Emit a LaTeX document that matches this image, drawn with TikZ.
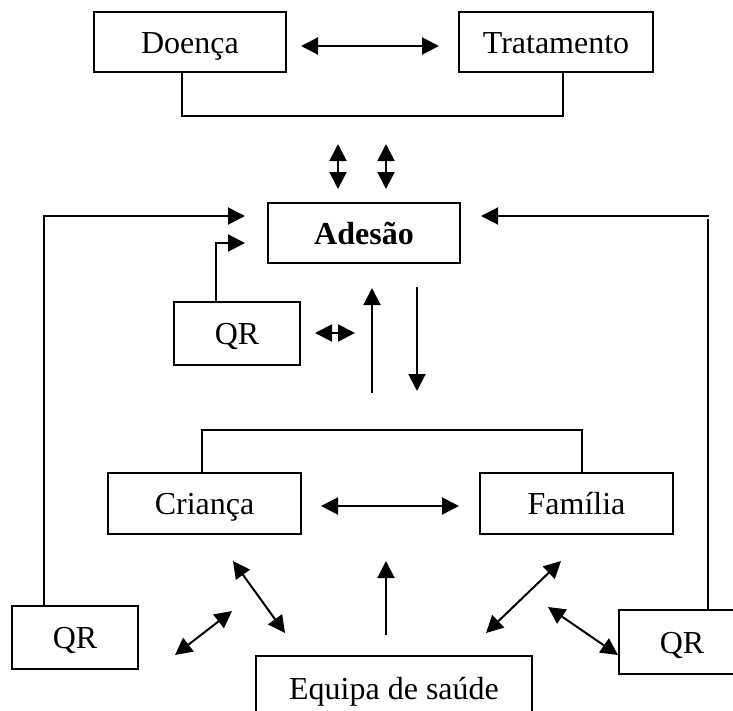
\documentclass[tikz,border=0pt]{standalone}
\usepackage{fontspec}
\setmainfont{Liberation Serif}
\usetikzlibrary{arrows.meta}
\begin{document}
\begin{tikzpicture}[x=1pt,y=-1pt,
  box/.style={draw,line width=2pt,inner sep=0pt,outer sep=0pt,text height=27pt,text depth=5pt,font=\fontsize{32}{38}\selectfont},
  conn/.style={line width=2pt},
  tip/.tip={Triangle[length=17pt,width=17pt]},
  arr/.style={conn,-tip},
  darr/.style={conn,tip-tip}]
\clip (0,0) rectangle (733,710);
\fill[white] (0,0) rectangle (733,710);
% nodes
\node[box,minimum width=192pt,minimum height=60pt] (doenca) at (190,42) {Doença};
\node[box,minimum width=194pt,minimum height=60pt] (tratamento) at (556,42) {Tratamento};
\node[box,minimum width=192pt,minimum height=60pt] (adesao) at (364,233) {\textbf{Adesão}};
\node[box,minimum width=126pt,minimum height=63pt] (qrm) at (237,333.5) {QR};
\node[box,minimum width=193pt,minimum height=61pt] (crianca) at (204.5,503.5) {Criança};
\node[box,minimum width=193pt,minimum height=61pt] (familia) at (576.5,503.5) {Família};
\node[box,minimum width=126pt,minimum height=63pt] (qrl) at (75,637.5) {QR};
\node[box,minimum width=126pt,minimum height=64pt] (qrr) at (682,642) {QR};
\node[box,minimum width=276pt,minimum height=64pt] (equipa) at (394,688) {Equipa de saúde};
% free ends
\coordinate (dt1) at (301,46);
\coordinate (dt2) at (439,46);
\coordinate (s1a) at (338,144);
\coordinate (s1b) at (338,189);
\coordinate (s2a) at (386,144);
\coordinate (s2b) at (386,189);
\coordinate (la) at (245,216);
\coordinate (lb) at (245,243);
\coordinate (ra) at (481,216);
\coordinate (rc) at (709,216);
\coordinate (rd) at (708,219);
\coordinate (qa) at (315,333);
\coordinate (qb) at (355,333);
\coordinate (u1) at (372,393);
\coordinate (u2) at (372,288);
\coordinate (d1) at (417,287);
\coordinate (d2) at (417,391);
\coordinate (cf1) at (321,506);
\coordinate (cf2) at (459,506);
\coordinate (ql1) at (175,655);
\coordinate (ql2) at (232,611);
\coordinate (ce1) at (233,561);
\coordinate (ce2) at (285,633);
\coordinate (eu1) at (386,635);
\coordinate (eu2) at (386,561);
\coordinate (fe1) at (561,561);
\coordinate (fe2) at (486,633);
\coordinate (qr1) at (548,607);
\coordinate (qr2) at (618,655);
% connectors
\draw[darr] (dt1) -- (dt2);
\draw[conn] ([xshift=-8pt]doenca.south) -- ++(0,44) -| ([xshift=7pt]tratamento.south);
\draw[darr] (s1a) -- (s1b);
\draw[darr] (s2a) -- (s2b);
\draw[arr] ([xshift=-31pt]qrl.north) |- (la);
\draw[arr] ([xshift=-21pt]qrm.north) |- (lb);
\draw[arr] (rc) -- (ra);
\draw[conn] ([xshift=26pt]qrr.north) -- (rd);
\draw[darr] (qa) -- (qb);
\draw[arr] (u1) -- (u2);
\draw[arr] (d1) -- (d2);
\draw[conn] ([xshift=-2.5pt]crianca.north) -- ++(0,-43) -| ([xshift=5.5pt]familia.north);
\draw[darr] (cf1) -- (cf2);
\draw[darr] (ql1) -- (ql2);
\draw[darr] (ce1) -- (ce2);
\draw[arr] (eu1) -- (eu2);
\draw[darr] (fe1) -- (fe2);
\draw[darr] (qr1) -- (qr2);
\end{tikzpicture}
\end{document}
